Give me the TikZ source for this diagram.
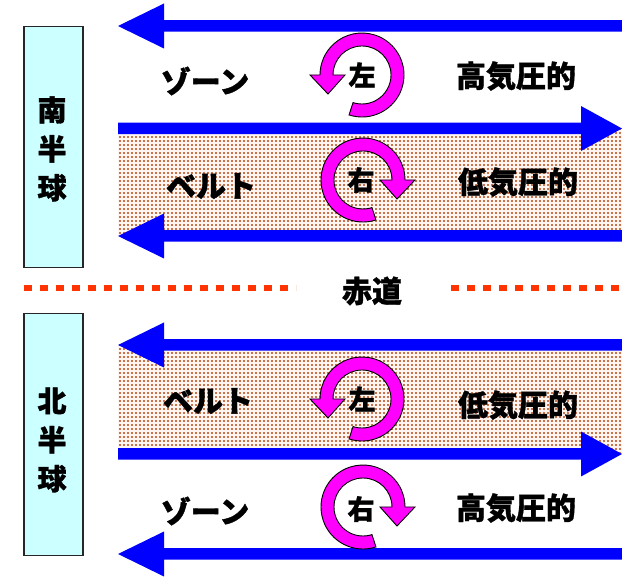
\documentclass[tikz,border=0pt]{standalone}
\usepackage{fontspec}
\newfontfamily\jp{Noto Sans CJK JP}[BoldFeatures={FakeBold=1.2}]
\usetikzlibrary{patterns}
\pgfdeclarepatternformonly{bdots}{\pgfqpoint{-1.2pt}{-1.2pt}}{\pgfqpoint{1.2pt}{1.2pt}}{\pgfqpoint{4pt}{4pt}}{\pgfpathrectangle{\pgfqpoint{-1.1pt}{-1.1pt}}{\pgfqpoint{2.2pt}{2.2pt}}\pgfusepath{fill}}
\definecolor{arrowblue}{RGB}{0,0,255}
\definecolor{boxcyan}{RGB}{204,255,255}
\definecolor{eqred}{RGB}{255,51,0}
\definecolor{dotbrown}{RGB}{200,115,75}
\definecolor{bandbg}{RGB}{255,245,240}
\definecolor{rotmag}{RGB}{255,0,255}
\tikzset{
  lbl/.style={font=\jp\bfseries\fontsize{30}{32}\selectfont, inner sep=0pt},
  rotlbl/.style={font=\jp\bfseries\fontsize{27}{30}\selectfont, inner sep=0pt},
  hemibox/.style={draw=black!85, line width=1.5pt, fill=boxcyan},
  hemilbl/.style={font=\jp\bfseries\fontsize{29}{39}\selectfont, align=center, inner sep=0pt},
  band/.style={pattern=bdots, pattern color=dotbrown},
  flow/.style={fill=arrowblue},
  rotarr/.style={draw=black, line width=0.9pt, fill=rotmag},
  equator/.style={eqred, line width=6pt, dash pattern=on 8pt off 8pt}
}
% left-pointing arrow, shaft centre at y=#1
\newcommand\flowleft[1]{%
  \begin{scope}[shift={(0,#1)}]
    \fill[flow] (118,0) -- (164,22.5) -- (164,5.75) -- (622,5.75) -- (622,-5.75) -- (164,-5.75) -- (164,-22.5) -- cycle;
  \end{scope}}
% right-pointing arrow
\newcommand\flowright[1]{%
  \begin{scope}[shift={(0,#1)}]
    \fill[flow] (118,5.75) -- (581,5.75) -- (581,22.5) -- (622,0) -- (581,-22.5) -- (581,-5.75) -- (118,-5.75) -- cycle;
  \end{scope}}
% rotation arrow: #1,#2 centre, #3 = 1 (ccw) or -1 (cw)
\newcommand\rotarrow[3]{%
  \begin{scope}[shift={(#1,#2)}, xscale=#3]
    \draw[rotarr] (-108:42) arc[start angle=-108, end angle=180, radius=42]
      -- (-52,0) -- (-34,-19) -- (-17,0) -- (180:29)
      arc[start angle=180, end angle=-108, radius=29] -- cycle;
  \end{scope}}
\begin{document}
\begin{tikzpicture}[x=1pt,y=1pt]
\useasboundingbox (0,0) rectangle (622,-577);
% bands
\fill[bandbg] (118,-128) rectangle (622,-236);
\fill[band] (118,-128) rectangle (622,-236);
\fill[bandbg] (118,-345) rectangle (622,-454);
\fill[band] (118,-345) rectangle (622,-454);
% flow arrows
\flowleft{-26}
\flowright{-128.5}
\flowleft{-236}
\flowleft{-345}
\flowright{-454}
\flowleft{-554}
% hemisphere boxes
\node[hemibox, minimum width=59pt, minimum height=241pt, anchor=north west] (sbox) at (23,-26) {};
\node[hemilbl] (slbl) at (52,-149) {南\\半\\球};
\node[hemibox, minimum width=59pt, minimum height=242pt, anchor=north west] (nbox) at (23,-313) {};
\node[hemilbl] (nlbl) at (52,-440) {北\\半\\球};
% equator
\coordinate (eqa) at (24,-288);
\coordinate (eqb) at (296,-288);
\coordinate (eqc) at (451,-288);
\coordinate (eqd) at (640,-288);
\draw[equator] (eqa) -- (eqb);
\draw[equator] (eqc) -- (eqd);
\node[lbl] (eq) at (372,-291) {赤道};
% rotation arrows
\rotarrow{362}{-75}{1}
\rotarrow{363}{-180}{-1}
\rotarrow{362}{-399}{1}
\rotarrow{363}{-507}{-1}
\node[rotlbl] (r1) at (362,-75) {左};
\node[rotlbl] (r2) at (361,-180) {右};
\node[rotlbl] (r3) at (362,-399) {左};
\node[rotlbl] (r4) at (361,-509) {右};
% labels
\node[lbl] (z1) at (205,-81) {ゾーン};
\node[lbl] (b1) at (211,-186) {ベルト};
\node[lbl] (b2) at (208,-401) {ベルト};
\node[lbl] (z2) at (205,-511) {ゾーン};
\node[lbl] (h1) at (516,-76) {高気圧的};
\node[lbl] (l1) at (518,-182) {低気圧的};
\node[lbl] (l2) at (518,-405) {低気圧的};
\node[lbl] (h2) at (516,-508) {高気圧的};
\end{tikzpicture}
\end{document}
